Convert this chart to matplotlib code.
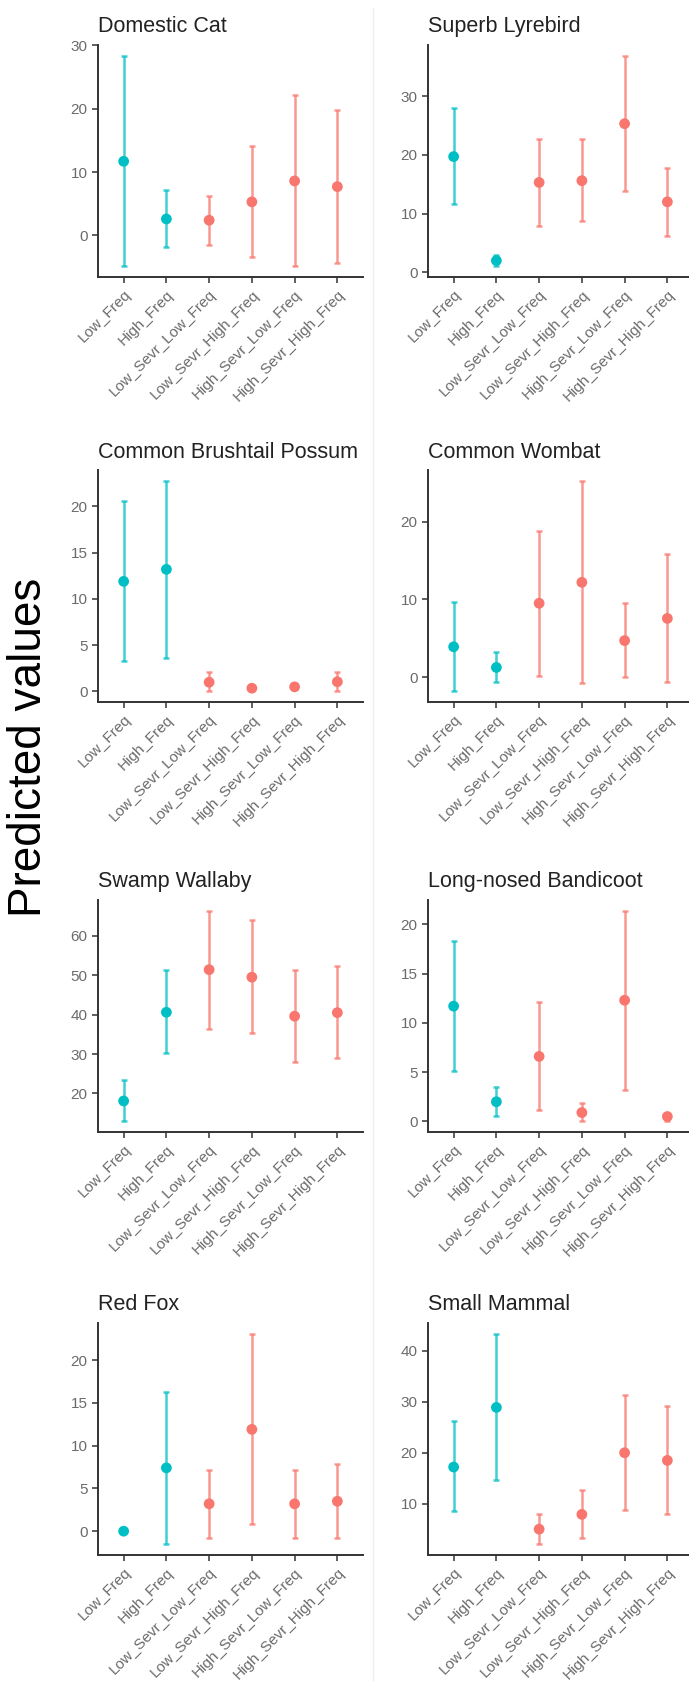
import matplotlib.pyplot as plt
import numpy as np

plt.rcParams['font.family'] = ['Liberation Sans', 'DejaVu Sans']

categories = ["Low_Freq", "High_Freq", "Low_Sevr_Low_Freq", "Low_Sevr_High_Freq",
              "High_Sevr_Low_Freq", "High_Sevr_High_Freq"]
cat_colors = ["#00BFC4", "#00BFC4", "#F8766D", "#F8766D", "#F8766D", "#F8766D"]

species = ["Domestic Cat", "Superb Lyrebird", "Common Brushtail Possum", "Common Wombat",
           "Swamp Wallaby", "Long-nosed Bandicoot", "Red Fox", "Small Mammal"]

# predicted value, lower and upper interval per species
cat_mean = [11.7, 2.6, 2.4, 5.3, 8.6, 7.7]
cat_low = [-4.9, -1.9, -1.5, -3.4, -4.8, -4.3]
cat_high = [28.4, 7.2, 6.3, 14.1, 22.2, 19.8]

lyre_mean = [19.7, 2.0, 15.3, 15.6, 25.3, 12.0]
lyre_low = [11.6, 1.0, 7.9, 8.7, 13.8, 6.2]
lyre_high = [28.0, 3.0, 22.7, 22.7, 36.9, 17.8]

possum_mean = [11.9, 13.2, 1.0, 0.35, 0.5, 1.05]
possum_low = [3.3, 3.6, 0.0, 0.2, 0.3, 0.07]
possum_high = [20.6, 22.8, 2.1, 0.5, 0.7, 2.1]

wombat_mean = [3.9, 1.24, 9.5, 12.2, 4.7, 7.55]
wombat_low = [-1.85, -0.6, 0.17, -0.77, -0.04, -0.6]
wombat_high = [9.7, 3.2, 18.8, 25.3, 9.6, 15.8]

wallaby_mean = [18.1, 40.6, 51.4, 49.5, 39.6, 40.5]
wallaby_low = [12.9, 30.2, 36.4, 35.3, 28.0, 28.9]
wallaby_high = [23.4, 51.3, 66.4, 64.1, 51.4, 52.4]

bandicoot_mean = [11.7, 2.0, 6.6, 0.9, 12.3, 0.5]
bandicoot_low = [5.1, 0.6, 1.2, 0.0, 3.2, 0.07]
bandicoot_high = [18.3, 3.5, 12.1, 1.9, 21.4, 0.9]

fox_mean = [0.0, 7.4, 3.2, 11.9, 3.2, 3.5]
fox_low = [0.0, -1.55, -0.85, 0.85, -0.8, -0.8]
fox_high = [0.0, 16.3, 7.2, 23.1, 7.2, 7.9]

mammal_mean = [17.2, 28.9, 5.0, 7.9, 20.0, 18.5]
mammal_low = [8.6, 14.7, 2.0, 3.3, 8.7, 7.9]
mammal_high = [26.2, 43.4, 7.9, 12.7, 31.4, 29.1]

means = [cat_mean, lyre_mean, possum_mean, wombat_mean,
         wallaby_mean, bandicoot_mean, fox_mean, mammal_mean]
lows = [cat_low, lyre_low, possum_low, wombat_low,
        wallaby_low, bandicoot_low, fox_low, mammal_low]
highs = [cat_high, lyre_high, possum_high, wombat_high,
         wallaby_high, bandicoot_high, fox_high, mammal_high]

yticks = [[0, 10, 20, 30], [0, 10, 20, 30], [0, 5, 10, 15, 20], [0, 10, 20],
          [20, 30, 40, 50, 60], [0, 5, 10, 15, 20], [0, 5, 10, 15, 20], [10, 20, 30, 40]]

W, H = 689, 1687
fig = plt.figure(figsize=(W / 100, H / 100), dpi=100)

col_x = [98, 428]
row_top = [45, 470, 900, 1323]
ax_w, ax_h = 265, 232

# faint divider between the two columns
fig.add_artist(plt.Line2D([373 / W, 373 / W], [1 - 8 / H, 1 - 1680 / H],
                          transform=fig.transFigure, color="#eeeeee", lw=1))

x = np.arange(len(categories))
for i, name in enumerate(species):
    r, c = divmod(i, 2)
    ax = fig.add_axes([col_x[c] / W, 1 - (row_top[r] + ax_h) / H, ax_w / W, ax_h / H])
    m = np.array(means[i])
    lo = np.array(lows[i])
    hi = np.array(highs[i])
    for j in range(len(categories)):
        ax.errorbar(x[j], m[j], yerr=[[m[j] - lo[j]], [hi[j] - m[j]]], fmt='none',
                    ecolor=cat_colors[j], alpha=0.75, elinewidth=1.8, capsize=2,
                    capthick=1.8, zorder=2)
    ax.scatter(x, m, s=60, c=cat_colors, zorder=3, linewidths=0)

    span = hi.max() - lo.min()
    ax.set_ylim(lo.min() - 0.05 * span, hi.max() + 0.05 * span)
    ax.set_xlim(-0.6, len(categories) - 0.4)
    ax.set_yticks(yticks[i])
    ax.set_xticks(x)
    ax.set_xticklabels(categories, rotation=45, ha='right', va='top',
                       rotation_mode='anchor')
    ax.tick_params(labelsize=11, labelcolor="#6b6b6b", color="#333333",
                   length=4, width=1.1)
    for s in ["top", "right"]:
        ax.spines[s].set_visible(False)
    for s in ["left", "bottom"]:
        ax.spines[s].set_color("#333333")
        ax.spines[s].set_linewidth(1.4)
    ax.set_title(name, loc='left', fontsize=15.5, color="#222222", pad=9)

fig.text(29 / W, 1 - 747 / H, "Predicted values", rotation=90, ha='center',
         va='center', fontsize=33, color="black")

fig.savefig("out.png", dpi=100)
